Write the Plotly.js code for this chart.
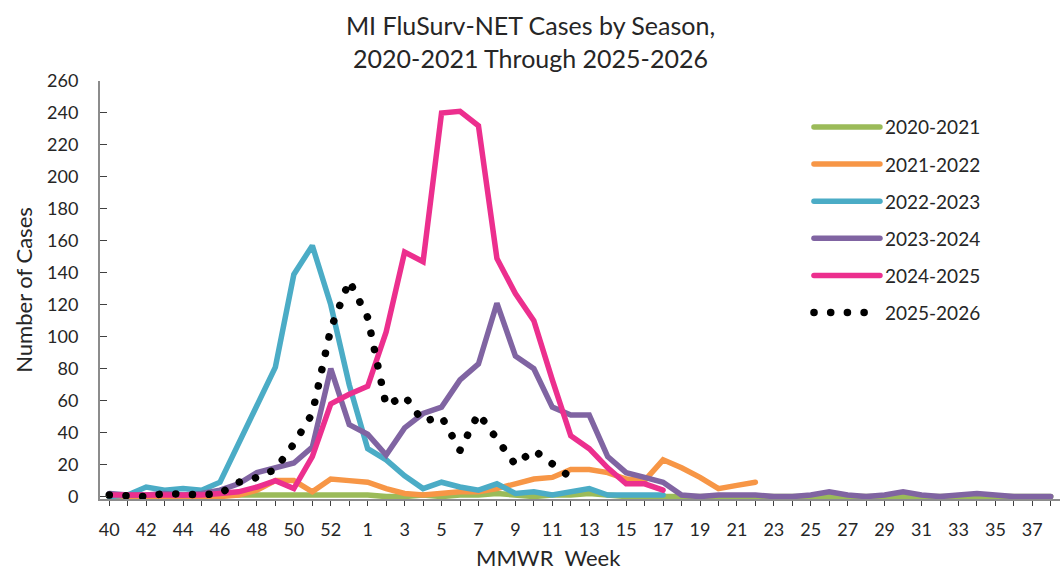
<!DOCTYPE html>
<html>
<head>
<meta charset="utf-8">
<script src="https://cdn.plot.ly/plotly-3.0.1.min.js"></script>
<style>
  html, body { margin: 0; padding: 0; background: #fff; }
  #chart { width: 1061px; height: 570px; }
  .scatterlayer path.js-line, .legend .legendlines path { stroke-linecap: round; }
</style>
</head>
<body>
<div id="chart"></div>
<script>
// MMWR weeks (2020-2021 season had a week 53)
const weeks = ['40','41','42','43','44','45','46','47','48','49','50','51','52','53',
  '1','2','3','4','5','6','7','8','9','10','11','12','13','14','15','16','17','18','19','20',
  '21','22','23','24','25','26','27','28','29','30','31','32','33','34','35','36','37','38'];

const seasonNames = ['2020-2021','2021-2022','2022-2023','2023-2024','2024-2025','2025-2026'];

const cases2020_2021 = [0,0,0,0,0,0,1,1,1,1,1,1,1,1,1,0,0,1,0,1,1,2,1,0,1,1,2,1,0,0,0,
  0,0,0,0,0,0,0,0,0,0,0,0,0,0,0,0,0,0,0,0,0];
const cases2021_2022 = [0,0,0,0,0,0,0,1,4,10,10,3,11,10,9,5,2,1,2,3,3,5,8,11,12,17,17,15,11,10,23,
  18,12,5,7,9];
const cases2022_2023 = [0,1,6,4,5,4,9,33,57,81,139,157,120,70,30,23,13,5,9,6,4,8,2,3,1,3,5,1,1,1,1];
const cases2023_2024 = [2,1,1,2,1,2,4,8,15,18,21,31,80,45,39,26,43,52,56,73,83,121,88,80,56,51,51,25,15,12,9,
  1,0,1,1,1,0,0,1,3,1,0,1,3,1,0,1,2,1,0,0,0];
const cases2024_2025 = [1,1,1,1,1,1,2,3,6,10,5,25,58,64,69,103,153,147,240,241,232,149,127,110,73,38,30,18,8,8,4];
const cases2025_2026 = [1,1,0,2,1,1,2,9,12,17,33,52,105,135,112,57,63,47,50,29,52,35,20,29,20,12];

const seriesValues = [cases2020_2021, cases2021_2022, cases2022_2023, cases2023_2024, cases2024_2025, cases2025_2026];
const seriesColors = ['#9BBB59','#F79646','#4BACC6','#8064A2','#EC2F8E','#000000'];

const tickText = weeks.map((w, i) => (i % 2 === 0 ? w : ''));

const traces = seriesValues.map((vals, k) => {
  const last = k === seriesValues.length - 1;
  return {
    type: 'scatter',
    mode: 'lines',
    name: seasonNames[k],
    legendgroup: 'g' + k,
    x: weeks.slice(0, vals.length),
    y: vals,
    line: last
      ? { color: seriesColors[k], width: 7.5, dash: '0.1px,16.6px' }
      : { color: seriesColors[k], width: 5.5 },
    hoverinfo: 'x+y+name'
  };
});

const FONT = 'Lato, "Open Sans", sans-serif';
const TXT = '#262626';

const layout = {
  width: 1061,
  height: 570,
  margin: { l: 100, r: 1, t: 81, b: 71 },
  paper_bgcolor: '#ffffff',
  plot_bgcolor: '#ffffff',
  font: { family: FONT, size: 19, color: TXT },
  title: {
    text: 'MI FluSurv-NET Cases by Season,<br>2020-2021 Through 2025-2026',
    font: { family: FONT, size: 25, color: TXT },
    x: 0.5, xref: 'container', xanchor: 'center',
    y: 0.938, yref: 'container', yanchor: 'middle'
  },
  showlegend: true,
  legend: {
    x: 0.7385, xanchor: 'left',
    y: 0.935, yanchor: 'top',
    bgcolor: 'rgba(0,0,0,0)',
    font: { family: FONT, size: 19, color: TXT },
    itemwidth: 66,
    tracegroupgap: 9.4,
    traceorder: 'grouped'
  },
  xaxis: {
    type: 'category',
    categoryorder: 'array',
    categoryarray: weeks,
    range: [-0.5, weeks.length - 0.5],
    tickmode: 'array',
    tickvals: weeks,
    ticktext: tickText,
    ticks: 'outside',
    ticklen: 5,
    tickwidth: 1,
    tickcolor: '#404040',
    showline: true,
    linecolor: '#8c8c8c',
    linewidth: 2,
    showgrid: false,
    zeroline: false,
    tickfont: { family: FONT, size: 18, color: TXT },
    ticklabelstandoff: 8,
    fixedrange: true
  },
  yaxis: {
    range: [-1.5, 260],
    tickmode: 'linear',
    tick0: 0,
    dtick: 20,
    ticks: 'inside',
    ticklen: 7,
    tickwidth: 1,
    tickcolor: '#404040',
    showline: true,
    linecolor: '#8c8c8c',
    linewidth: 2,
    showgrid: false,
    zeroline: false,
    tickfont: { family: FONT, size: 18, color: TXT },
    ticklabelstandoff: 16,
    title: { text: 'Number of Cases', font: { family: FONT, size: 22, color: TXT }, standoff: 8 },
    fixedrange: true
  },
  annotations: [{
    text: 'MMWR\u00a0 Week',
    xref: 'paper', yref: 'paper',
    x: 0.4667, y: -0.14,
    xanchor: 'center', yanchor: 'middle',
    showarrow: false,
    font: { family: FONT, size: 22, color: TXT }
  }]
};

Plotly.newPlot('chart', traces, layout, { displayModeBar: false, staticPlot: true });
</script>
</body>
</html>
